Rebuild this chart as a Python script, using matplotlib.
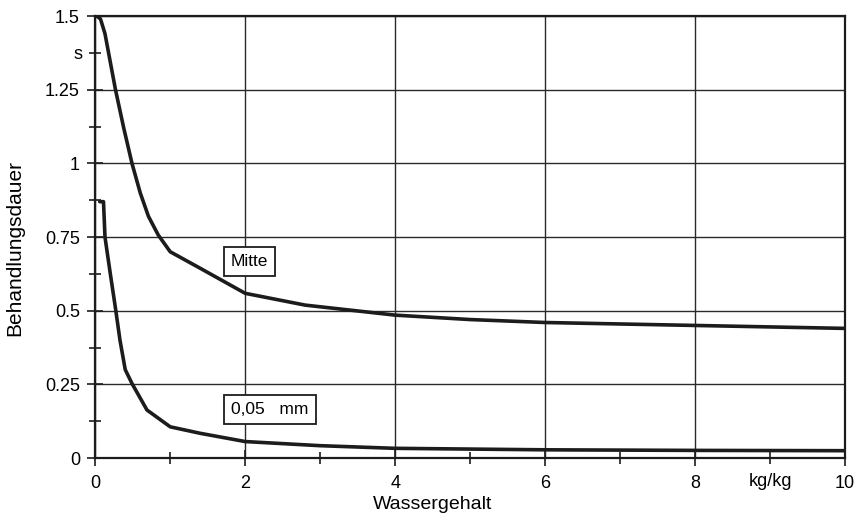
import matplotlib
matplotlib.use("Agg")
import matplotlib.pyplot as plt

# Behandlungsdauer über Wassergehalt
x_mitte = [0.02, 0.07, 0.13, 0.27, 0.38, 0.49, 0.6, 0.71, 0.84, 1.0, 1.4, 2.0, 2.8, 4.0, 5.0, 6.0, 8.0, 10.0]
y_mitte = [1.5, 1.49, 1.44, 1.25, 1.12, 1.0, 0.9, 0.82, 0.757, 0.70, 0.644, 0.559, 0.519, 0.485, 0.47, 0.46, 0.45, 0.44]

x_005 = [0.06, 0.11, 0.13, 0.2, 0.27, 0.33, 0.4, 0.49, 0.69, 1.0, 1.4, 2.0, 3.0, 4.0, 6.0, 8.0, 10.0]
y_005 = [0.87, 0.87, 0.75, 0.627, 0.508, 0.40, 0.30, 0.253, 0.163, 0.106, 0.084, 0.056, 0.042, 0.033, 0.028, 0.026, 0.025]

x_major = [0, 2, 4, 6, 8, 10]
x_major_labels = ["0", "2", "4", "6", "8", "10"]
x_minor = [1, 3, 5, 7, 9]
x_minor_labels = ["", "", "", "", "kg/kg"]
y_major = [0, 0.25, 0.5, 0.75, 1.0, 1.25, 1.5]
y_major_labels = ["0", "0.25", "0.5", "0.75", "1", "1.25", "1.5"]
y_minor = [0.125, 0.375, 0.625, 0.875, 1.125, 1.375]
y_minor_labels = ["", "", "", "", "", "s"]

plt.rcParams["font.family"] = ["Liberation Sans", "DejaVu Sans"]
ink = "#1c1c1c"

fig = plt.figure(figsize=(8.58, 5.17), dpi=100)
ax = fig.add_axes([0.111, 0.114, 0.874, 0.855])

ax.plot(x_mitte, y_mitte, color=ink, lw=2.6, solid_capstyle="round", zorder=3)
ax.plot(x_005, y_005, color=ink, lw=2.6, solid_capstyle="round", zorder=3)

box = dict(boxstyle="square,pad=0.4", fc="white", ec=ink, lw=1.3)
ax.text(2.06, 0.667, "Mitte", ha="center", va="center", fontsize=12.5, bbox=box, zorder=4)
ax.text(2.33, 0.164, "0,05   mm", ha="center", va="center", fontsize=12.5, bbox=box, zorder=4)

ax.set_xlim(0, 10)
ax.set_ylim(0, 1.5)
ax.set_xticks(x_major)
ax.set_xticklabels(x_major_labels)
ax.set_xticks(x_minor, minor=True)
ax.set_xticklabels(x_minor_labels, minor=True)
ax.set_yticks(y_major)
ax.set_yticklabels(y_major_labels)
ax.set_yticks(y_minor, minor=True)
ax.set_yticklabels(y_minor_labels, minor=True)

ax.tick_params(which="major", direction="inout", length=12, width=1.2, color=ink,
               labelsize=13, pad=5)
ax.tick_params(which="minor", direction="inout", length=9, width=1.2, color=ink,
               labelsize=13, pad=5)
ax.tick_params(axis="x", which="both", pad=6)

ax.grid(True, which="major", color="#2a2a2a", lw=1.0)
for s in ax.spines.values():
    s.set_color(ink)
    s.set_linewidth(1.6)

ax.set_xlabel("Wassergehalt", fontsize=14)
ax.xaxis.set_label_coords(0.45, -0.086)
ax.set_ylabel("Behandlungsdauer", fontsize=15)
ax.yaxis.set_label_coords(-0.095, 0.475)

fig.savefig("out.png", dpi=100, facecolor="white")
